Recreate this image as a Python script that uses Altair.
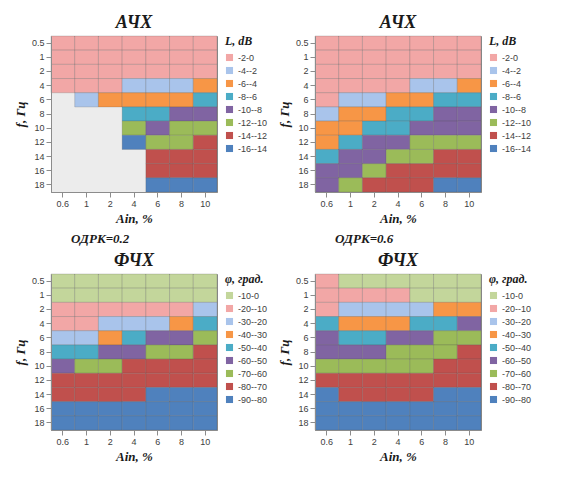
import altair as alt
import pandas as pd

# ---------------- data ----------------
F_HZ = [0.5, 1, 2, 4, 6, 8, 10, 12, 14, 16, 18]          # f, Гц
AIN_PCT = [0.6, 1, 2, 4, 6, 8, 10]                          # Ain, %

# АЧХ, ОДРК=0.2 (L, dB); one row per Ain, one value per f; None = below the -16 dB floor (not drawn)
AMP_ODRK02 = [
    [0.0, -0.1, -0.2, -0.6, None, None, None, None, None, None, None],
    [0.0, -0.1, -0.4, -1.0, -2.3, None, None, None, None, None, None],
    [0.0, -0.2, -0.7, -1.7, -4.6, None, None, None, None, None, None],
    [0.0, -0.3, -1.0, -2.2, -5.0, -8.0, -11.5, -15.2, None, None, None],
    [0.0, -0.3, -1.2, -2.9, -5.3, -8.0, -9.7, -11.3, -12.6, -13.4, -14.1],
    [0.0, -0.4, -1.4, -3.5, -6.0, -8.5, -10.3, -11.8, -12.9, -13.7, -14.4],
    [0.0, -0.5, -1.6, -4.2, -6.6, -9.0, -10.8, -12.2, -13.1, -14.0, -14.8],
]
# АЧХ, ОДРК=0.6 (L, dB)
AMP_ODRK06 = [
    [0.0, -0.3, -0.8, -1.4, -2.0, -3.1, -4.3, -6.0, -7.2, -8.5, -9.8],
    [0.0, -0.3, -0.9, -1.6, -2.5, -4.2, -5.8, -7.3, -8.7, -10.0, -11.2],
    [0.0, -0.3, -1.0, -1.7, -3.6, -6.0, -7.3, -8.5, -9.8, -11.7, -12.6],
    [0.0, -0.3, -1.1, -1.8, -5.6, -7.0, -7.9, -9.6, -11.1, -12.3, -13.2],
    [0.0, -0.4, -1.2, -2.6, -6.0, -7.6, -9.3, -10.8, -11.9, -13.1, -13.9],
    [0.0, -0.4, -1.3, -4.0, -6.2, -8.2, -9.9, -11.4, -12.2, -13.7, -14.5],
    [0.0, -0.5, -1.5, -4.2, -6.6, -8.9, -10.0, -12.0, -13.0, -14.0, -15.0],
]
# ФЧХ, ОДРК=0.2 (φ, град.)
PH_ODRK02 = [
    [-2, -5, -11, -17, -26, -43, -58, -71, -76, -81, -85],
    [-2, -6, -12, -18.5, -29, -48, -61.5, -72.5, -77.5, -81.5, -85.5],
    [-2, -6.5, -13, -20.5, -36, -53, -67, -73.5, -78.5, -82, -86],
    [-1.5, -7, -15, -24, -43, -59, -70.5, -75, -79.5, -83, -86.5],
    [-1.5, -8, -16.5, -28, -50.5, -64, -72, -77, -80.5, -84, -87],
    [-1, -9, -18.5, -34, -55, -67, -73.5, -78, -81, -84.5, -87.5],
    [-1, -10, -21, -42, -61, -70.5, -75, -79, -82, -85, -88],
]
# ФЧХ, ОДРК=0.6 (φ, град.)
PH_ODRK06 = [
    [-11, -15, -19.5, -43, -51, -59, -68, -75, -81, -85, -88],
    [-8, -13, -22, -38, -50, -58, -66, -74, -80, -84.5, -87.5],
    [-5, -12, -24, -37, -49, -58, -64, -72, -79, -84, -87],
    [-4, -11, -26, -39, -52, -62, -67, -73, -79, -84, -87.5],
    [-4, -10, -28, -44, -57, -66, -70, -76, -80, -84.5, -88],
    [-3, -10, -31, -50, -62, -69, -73, -78, -81, -85, -88],
    [-3, -10, -35, -55, -66, -71, -75, -79, -81.5, -85, -88],
]

AMP_BANDS = ["-2-0", "-4--2", "-6--4", "-8--6", "-10--8", "-12--10", "-14--12", "-16--14"]
AMP_COLORS = ["#F2A7A6", "#A9C4EB", "#F79646", "#4BACC6", "#8064A2", "#9BBB59", "#C0504D", "#4F81BD"]
PH_BANDS = ["-10-0", "-20--10", "-30--20", "-40--30", "-50--40", "-60--50", "-70--60", "-80--70", "-90--80"]
PH_COLORS = ["#C3D69B", "#F2A7A6", "#A9C4EB", "#F79646", "#4BACC6", "#8064A2", "#9BBB59", "#C0504D", "#4F81BD"]

W, H = 166, 156
SERIF = "Liberation Serif"


def long_table(rows):
    recs = []
    for a, row in zip(AIN_PCT, rows):
        for f, v in zip(F_HZ, row):
            recs.append({"Ain": a, "f": f, "v": v})
    return pd.DataFrame(recs)


def panel(rows, title, step, bands, colors, vtitle):
    base = (
        alt.Chart(long_table(rows))
        .transform_filter("isValid(datum.v)")
        .transform_calculate(lo=f"min(floor(datum.v / {step}) * {step}, -{step})")
        .transform_calculate(band=f"datum.lo + '-' + (datum.lo + {step})")
    )
    return base.mark_rect(stroke="#4d4d4d", strokeWidth=0.4, strokeOpacity=0.55).encode(
        x=alt.X("Ain:O", sort=AIN_PCT, title="Ain, %", axis=alt.Axis(labelAngle=0)),
        y=alt.Y("f:O", sort=F_HZ, title="f, Гц"),
        color=alt.Color(
            "band:N",
            scale=alt.Scale(domain=bands, range=colors),
            legend=alt.Legend(title=vtitle),
        ),
        tooltip=["f:O", "Ain:O", "v:Q"],
    ).properties(
        width=W,
        height=H,
        title=alt.Title(title),
        view=alt.ViewBackground(fill="#ececec", stroke="#8c8c8c"),
    )


def label(text):
    return alt.Chart(alt.Data(values=[{"t": text}])).mark_text(
        align="left", baseline="middle", font=SERIF, fontStyle="italic",
        fontWeight="bold", fontSize=13, color="#1a1a1a",
    ).encode(text="t:N", x=alt.value(20), y=alt.value(8)).properties(width=W, height=14)


p1 = panel(AMP_ODRK02, "АЧХ", 2, AMP_BANDS, AMP_COLORS, "L, dB")
p2 = panel(AMP_ODRK06, "АЧХ", 2, AMP_BANDS, AMP_COLORS, "L, dB")
p3 = panel(PH_ODRK02, "ФЧХ", 10, PH_BANDS, PH_COLORS, "φ, град.")
p4 = panel(PH_ODRK06, "ФЧХ", 10, PH_BANDS, PH_COLORS, "φ, град.")

col1 = alt.vconcat(p1, label("ОДРК=0.2"), p3, spacing=4).resolve_scale(color="independent")
col2 = alt.vconcat(p2, label("ОДРК=0.6"), p4, spacing=4).resolve_scale(color="independent")

chart = (
    alt.hconcat(col1, col2, spacing=8)
    .resolve_scale(color="independent")
    .configure_view(stroke="transparent")
    .configure_axis(
        labelFont="Liberation Sans", labelFontSize=9, labelColor="#404040",
        titleFont=SERIF, titleFontStyle="italic", titleFontWeight="bold",
        titleFontSize=13, titleColor="#1a1a1a",
        domainColor="#8c8c8c", tickColor="#8c8c8c", grid=False,
    )
    .configure_legend(
        labelFont="Liberation Sans", labelFontSize=9, labelColor="#404040",
        titleFont=SERIF, titleFontStyle="italic", titleFontWeight="bold",
        titleFontSize=12, titleColor="#1a1a1a",
        symbolType="square", symbolSize=50, symbolStrokeWidth=0,
        rowPadding=3, offset=8,
    )
    .configure_title(font=SERIF, fontStyle="italic", fontWeight="bold", fontSize=18, color="#1a1a1a")
)

chart.save("out.html", embed_options={"renderer": "svg", "actions": False})
